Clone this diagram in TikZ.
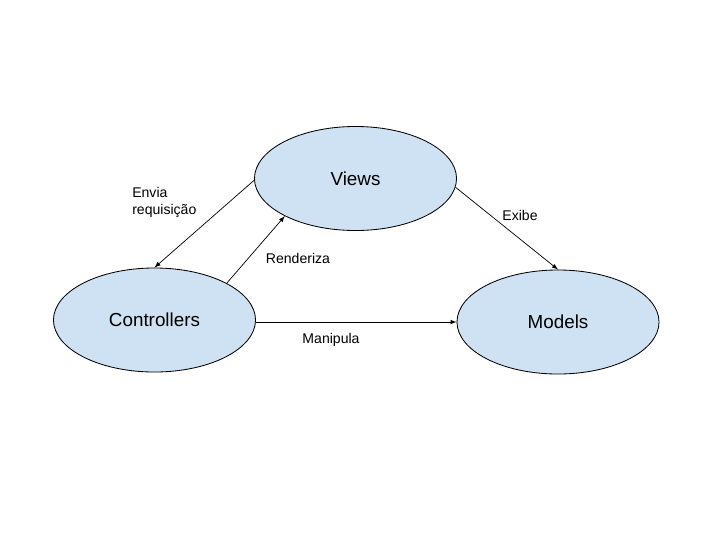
\documentclass[tikz,border=0pt]{standalone}
\usepackage{fontspec}
\setmainfont{Liberation Sans}
\usepackage{xcolor}
\usepackage{tikz}
\usetikzlibrary{shapes}
\usetikzlibrary{positioning}
\usetikzlibrary{shapes.geometric}
\definecolor{mvcblue}{HTML}{CFE2F3}
\tikzset{
    mvcnode/.style = {ellipse, draw=black, line width=0.6pt, align=center, fill=mvcblue, font=\fontsize{13.4}{16}\selectfont, minimum width=5.05cm, minimum height=2.6cm, inner sep=0pt},
}

\begin{document}
\begin{tikzpicture}[
	x=0.025cm,
	y=-0.025cm,
	font=\fontsize{10}{12}\selectfont
]
\tikzset{
    conn/.style = {-latex, line width=0.5pt},
    lbl/.style = {inner sep=0pt, align=left}
}
\useasboundingbox (0,0) rectangle (720,540);
\node[mvcnode] at (355.5,178.5) (views) {Views};
\node[mvcnode] at (154.5,320.0) (ctrl) {Controllers};
\node[mvcnode] at (558.0,322.0) (models) {Models};
%
\draw[conn] (views.181) -- (ctrl.north);
\draw[conn] (ctrl.27) -- (views.208);
\draw[conn] (views.-5) -- (models.north);
\draw[conn] (ctrl.east |- 0,322) -- (models.west);
%
\node[lbl, anchor=west] at (132,202) (envia) {Envia\\requisição};
\node[lbl] at (298,258) (rend) {Renderiza};
\node[lbl] at (520,215) (exibe) {Exibe};
\node[lbl] at (331,340) (manip) {Manipula};
\end{tikzpicture}
\end{document}
